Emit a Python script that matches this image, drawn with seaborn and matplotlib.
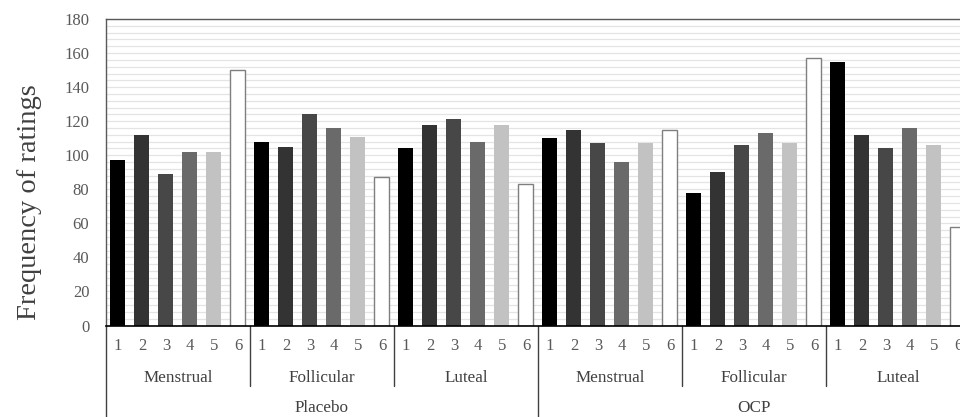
import pandas as pd
import seaborn as sns
import matplotlib.pyplot as plt
import matplotlib.transforms as mtransforms
from matplotlib.ticker import MultipleLocator

conditions = ["Placebo", "OCP"]
phases = ["Menstrual", "Follicular", "Luteal"]
ratings = ["1", "2", "3", "4", "5", "6"]

placebo_menstrual = [97, 112, 89, 102, 102, 150]
placebo_follicular = [108, 105, 124, 116, 111, 87]
placebo_luteal = [104, 118, 121, 108, 118, 83]
ocp_menstrual = [110, 115, 107, 96, 107, 115]
ocp_follicular = [78, 90, 106, 113, 107, 157]
ocp_luteal = [155, 112, 104, 116, 106, 58]

bar_colors = ["#000000", "#333333", "#474747", "#6a6a6a", "#c2c2c2", "#ffffff"]

blocks = {
    "Placebo": [placebo_menstrual, placebo_follicular, placebo_luteal],
    "OCP": [ocp_menstrual, ocp_follicular, ocp_luteal],
}

rows = []
for cond in conditions:
    for phase, vals in zip(phases, blocks[cond]):
        for r, v in zip(ratings, vals):
            rows.append({"slot": f"{cond}-{phase}-{r}", "rating": r, "freq": v})
df = pd.DataFrame(rows)

sns.set_style("white")
plt.rcParams["font.family"] = ["Liberation Serif", "DejaVu Serif"]

fig = plt.figure(figsize=(9.6, 4.17), dpi=100)
ax = fig.add_axes([0.1104, 0.2194, 0.9, 0.735])

sns.barplot(data=df, x="slot", y="freq", hue="rating",
            palette=dict(zip(ratings, bar_colors)), dodge=False,
            width=0.625, legend=False, ax=ax)

# only the white bars get an outline
for p in ax.patches:
    fc = p.get_facecolor()
    if fc[0] > 0.99 and fc[1] > 0.99 and fc[2] > 0.99:
        p.set_edgecolor("#7f7f7f")
        p.set_linewidth(1.0)
    else:
        p.set_edgecolor(fc)
        p.set_linewidth(0)

ax.set_xlim(-0.5, len(df) - 0.5)
ax.set_ylim(0, 180)
ax.yaxis.set_major_locator(MultipleLocator(20))
ax.yaxis.set_minor_locator(MultipleLocator(4))
ax.grid(True, axis="y", which="both", color="#e4e4e4", linewidth=0.9)
ax.set_axisbelow(True)

ax.set_xticks(range(len(df)), labels=ratings * 6)
ax.tick_params(axis="x", length=0, pad=9, labelsize=12, labelcolor="#595959")
ax.tick_params(axis="y", which="both", length=0, pad=12, labelsize=12, labelcolor="#595959")
ax.set_xlabel("")
ax.set_ylabel("")

for side in ["left", "top"]:
    ax.spines[side].set_color("#595959")
    ax.spines[side].set_linewidth(1.0)
ax.spines["bottom"].set_color("#000000")
ax.spines["bottom"].set_linewidth(1.2)
ax.spines["right"].set_visible(False)

# multi-level category axis below the plot
trans = mtransforms.blended_transform_factory(ax.transData, ax.transAxes)
for x in [5.5, 11.5, 23.5, 29.5]:
    ax.plot([x, x], [0, -0.197], transform=trans, color="#404040", lw=1.0, clip_on=False)
for x in [-0.5, 17.5]:
    ax.plot([x, x], [0, -0.32], transform=trans, color="#404040", lw=1.0, clip_on=False)

for i, phase in enumerate(phases * 2):
    ax.text(i * 6 + 2.5, -0.171, phase, transform=trans, ha="center", va="center",
            fontsize=12.3, color="#404040")
for i, cond in enumerate(conditions):
    ax.text(i * 18 + 8.5, -0.27, cond, transform=trans, ha="center", va="center",
            fontsize=12.3, color="#404040")

fig.text(0.031, 0.5156, "Frequency of ratings", rotation=90, ha="center", va="center",
         fontsize=20.5, color="#404040")

fig.savefig("out.png", dpi=100)
